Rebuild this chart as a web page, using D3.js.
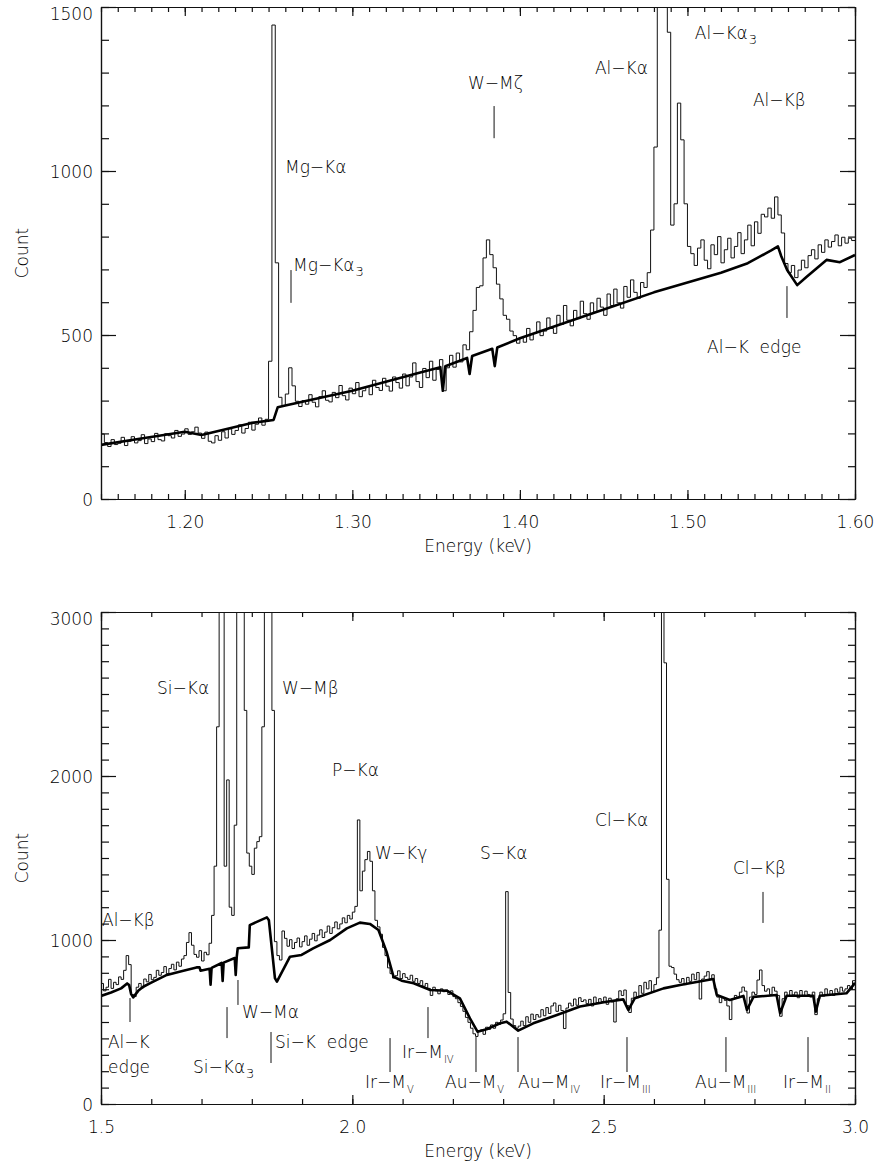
<!DOCTYPE html>
<html>
<head>
<meta charset="utf-8">
<style>
  body { margin: 0; background: #fff; }
  svg text { font-family: "DejaVu Sans", sans-serif; font-weight: 300; fill: #000; font-size: 17px; }
  .axis path, .axis line { stroke: #111; stroke-width: 1.2; }
</style>
</head>
<body>
<svg width="881" height="1164"></svg>
<script src="https://cdnjs.cloudflare.com/ajax/libs/d3/7.8.5/d3.min.js"></script>
<script>

// ---- top panel: 1.15 - 1.60 keV ----
var topStart = 1.150, topBin = 0.002;
var topCounts = [
  198,172,160,181,166,170,188,163,176,190, 171,178,196,169,183,175,200,181,177,199,
  193,186,209,191,198,214,197,205,219,201, 185,204,176,171,193,179,205,186,214,197,
  209,226,201,215,234,210,228,247,225,243, 420,1445,720,310,285,320,400,345,298,282,
  300,289,318,295,281,312,330,301,296,325, 309,346,315,302,338,321,355,312,330,343,
  318,362,340,331,368,344,329,372,355,338, 381,345,372,415,358,340,398,370,420,362,
  395,425,330,400,438,402,445,418,470,455, 510,575,645,650,735,790,745,705,655,610,
  560,548,512,498,475,492,478,520,485,505, 540,498,512,552,520,505,560,532,590,545,
  528,575,550,603,565,548,598,570,612,585, 560,625,590,640,598,582,648,615,668,630,
  612,660,645,690,820,1073,1900,2600,2200,1423, 835,900,1207,1095,900,770,748,712,765,790,
  728,702,775,745,800,720,760,795,735,770, 812,748,790,835,772,845,810,868,860,887,
  856,921,866,811,718,690,712,675,698,728, 705,742,760,732,775,752,790,768,785,805,
  772,798,780,795,788
];
var topModel = [
  [1.150,165],[1.175,185],[1.200,205],[1.210,195],[1.240,232],[1.253,241],[1.2555,280],
  [1.260,285],[1.300,330],[1.340,385],[1.3525,402],[1.354,330],[1.3555,405],[1.3685,430],
  [1.370,381],[1.3715,436],[1.3835,458],[1.385,405],[1.3865,462],[1.400,490],[1.440,560],
  [1.480,630],[1.500,660],[1.520,690],[1.536,719],[1.550,758],[1.554,770],[1.556,740],
  [1.5595,698],[1.5655,652],[1.571,677],[1.583,729],[1.591,722],[1.600,744]
];
var topXMajor = [1.20, 1.30, 1.40, 1.50, 1.60];
var topYMajor = [0, 500, 1000, 1500];
// [text, subscript, energy, count] for the text, [energy, count from, count to] for the marks
var topNotes = [
  ["Mg−Kα", "", 1.2598, 994], ["Mg−Kα", "3", 1.2646, 695], ["W−Mζ", "", 1.369, 1250],
  ["Al−Kα", "", 1.4448, 1296], ["Al−Kα", "3", 1.5044, 1402], ["Al−Kβ", "", 1.5391, 1198],
  ["Al−K  edge", "", 1.5117, 445]
];
var topMarks = [[1.2634, 598, 698], [1.3846, 1100, 1198], [1.5594, 552, 649]];

// ---- bottom panel: 1.5 - 3.0 keV ----
var botStart = 1.500, botBin = 0.005;
var botCounts = [
  735,690,712,760,705,742,728,775,760,815, 905,850,668,655,712,735,708,762,745,790,
  758,772,815,785,802,838,795,826,852,818, 865,840,884,905,985,1045,968,912,895,935,
  872,925,910,980,1150,1450,2300,3800,3500,1450, 1976,1200,1150,1700,3600,3900,3400,2400,1530,1450,
  1400,1560,1600,1630,2300,3500,4000,3800,2400,990, 905,878,1055,1010,962,1002,948,985,1012,958,
  990,1025,968,1005,1040,995,1030,1062,1015,1048, 1085,1040,1075,1110,1068,1098,1135,1105,1150,1128,
  1170,1205,1732,1300,1420,1490,1540,1480,1300,1120, 1080,1035,955,905,830,795,768,782,812,765,
  795,772,760,785,748,765,735,752,718,735, 705,662,712,690,672,702,685,695,668,690,
  655,642,618,595,565,528,498,462,428,412, 445,452,425,468,455,482,462,498,485,512,
  550,1295,680,518,478,462,475,505,478,532, 498,548,515,545,530,575,538,588,552,598,
  616,565,602,570,460,585,615,598,640,602, 648,625,635,612,638,598,652,618,642,625,
  652,608,645,622,500,642,690,662,695,600, 558,645,682,648,722,675,742,702,752,682,
  728,770,1060,3800,2690,1370,840,832,792,758, 742,765,728,772,748,792,758,802,640,762,
  780,807,762,788,702,652,618,648,632,598, 515,642,662,648,682,713,688,555,652,682,
  668,756,817,722,688,702,668,712,688,662, 535,642,682,658,692,665,682,648,692,662,
  688,668,652,682,545,642,682,658,702,668, 692,662,702,682,712,688,702,722,698,752
];
var botModel = [
  [1.500,659],[1.520,680],[1.540,705],[1.552,735],[1.556,725],[1.560,670],[1.564,650],
  [1.574,690],[1.584,715],[1.600,740],[1.631,787],[1.660,810],[1.690,833],[1.696,833],
  [1.698,813],[1.716,825],[1.718,728],[1.720,830],[1.740,860],[1.742,750],[1.744,862],
  [1.766,890],[1.768,787],[1.770,895],[1.772,950],[1.794,955],[1.796,1091],[1.830,1138],
  [1.834,1120],[1.846,768],[1.850,746],[1.876,898],[1.899,909],[1.922,949],[1.956,1000],
  [1.989,1071],[2.015,1106],[2.035,1098],[2.052,1061],[2.068,929],[2.082,776],[2.098,752],
  [2.122,736],[2.155,695],[2.188,691],[2.214,644],[2.234,522],[2.249,441],[2.267,456],
  [2.294,492],[2.307,502],[2.330,447],[2.360,492],[2.407,543],[2.453,594],[2.506,624],
  [2.539,638],[2.549,573],[2.562,645],[2.619,705],[2.652,726],[2.718,762],[2.725,665],
  [2.751,634],[2.778,659],[2.785,573],[2.798,653],[2.844,665],[2.851,553],[2.864,660],
  [2.917,660],[2.922,563],[2.930,660],[2.983,675],[2.997,726],[3.000,740]
];
var botXMajor = [1.5, 2.0, 2.5, 3.0];
var botYMajor = [0, 1000, 2000, 3000];
var botNotes = [
  ["Si−Kα", "", 1.6114, 2500], ["W−Mβ", "", 1.8601, 2500], ["P−Kα", "", 1.9596, 2000],
  ["W−Kγ", "", 2.0451, 1494], ["S−Kα", "", 2.254, 1494], ["Cl−Kα", "", 2.4828, 1695],
  ["Cl−Kβ", "", 2.7573, 1402], ["Al−Kβ", "", 1.502, 1085], ["Al−K", "", 1.5139, 341],
  ["edge", "", 1.5139, 189], ["W−Mα", "", 1.7805, 524], ["Si−Kα", "3", 1.683, 189],
  ["Si−K  edge", "", 1.8462, 341], ["Ir−M", "IV", 2.0988, 280], ["Ir−M", "V", 2.0252, 98],
  ["Au−M", "V", 2.1844, 98], ["Au−M", "IV", 2.3296, 98], ["Ir−M", "III", 2.4927, 98],
  ["Au−M", "III", 2.6817, 98], ["Ir−M", "II", 2.8568, 98]
];
var botMarks = [
  [2.817, 1104, 1293], [1.5577, 500, 646], [1.7725, 604, 756], [1.7507, 402, 591],
  [1.8382, 250, 439], [2.1505, 402, 591], [2.075, 195, 402], [2.246, 195, 408],
  [2.3296, 195, 408], [2.5464, 195, 408], [2.7433, 195, 408], [2.9065, 195, 408]
];

var svg = d3.select("svg");
var left = 101, right = 855;

function range(a, b, step) {
  var out = [];
  for (var v = a; v <= b + step / 2; v += step) out.push(+v.toFixed(4));
  return out;
}

function panel(id, top, bottom, xdom, ydom, xMajor, xMinorStep, yMajor, yMinorStep, fmt,
               start, bin, counts, model, notes, marks) {
  var x = d3.scaleLinear().domain(xdom).range([left, right]);
  var y = d3.scaleLinear().domain(ydom).range([bottom, top]);
  var g = svg.append("g");

  g.append("clipPath").attr("id", id)
    .append("rect").attr("x", left).attr("y", top)
    .attr("width", right - left).attr("height", bottom - top);

  var steps = counts.map(function(c, i) { return [start + i * bin, c]; });
  steps.push([start + counts.length * bin, counts[counts.length - 1]]);

  g.append("path")
      .datum(steps)
      .attr("clip-path", "url(#" + id + ")")
      .attr("fill", "none")
      .attr("stroke", "#111")
      .attr("stroke-width", 1)
      .attr("d", d3.line().curve(d3.curveStepAfter)
        .x(function(d) { return x(d[0]); })
        .y(function(d) { return y(d[1]); }));

  g.append("path")
      .datum(model)
      .attr("clip-path", "url(#" + id + ")")
      .attr("fill", "none")
      .attr("stroke", "#000")
      .attr("stroke-width", 2.6)
      .attr("stroke-linejoin", "round")
      .attr("d", d3.line()
        .x(function(d) { return x(d[0]); })
        .y(function(d) { return y(d[1]); }));

  var xMinor = range(xdom[0], xdom[1], xMinorStep);
  var yMinor = range(ydom[0], ydom[1], yMinorStep);

  // minor ticks first, then majors with labels
  g.append("g").attr("class", "axis").attr("transform", "translate(0," + bottom + ")")
      .call(d3.axisBottom(x).tickValues(xMinor).tickSize(-5).tickSizeOuter(0).tickFormat(""));
  g.append("g").attr("class", "axis").attr("transform", "translate(0," + bottom + ")")
      .call(d3.axisBottom(x).tickValues(xMajor).tickSize(-9).tickSizeOuter(0)
        .tickPadding(17).tickFormat(d3.format(fmt)));
  g.append("g").attr("class", "axis").attr("transform", "translate(0," + top + ")")
      .call(d3.axisTop(x).tickValues(xMinor).tickSize(-5).tickSizeOuter(0).tickFormat(""));
  g.append("g").attr("class", "axis").attr("transform", "translate(0," + top + ")")
      .call(d3.axisTop(x).tickValues(xMajor).tickSize(-9).tickSizeOuter(0).tickFormat(""));

  g.append("g").attr("class", "axis").attr("transform", "translate(" + left + ",0)")
      .call(d3.axisLeft(y).tickValues(yMinor).tickSize(-8).tickSizeOuter(0).tickFormat(""));
  var ly = g.append("g").attr("class", "axis").attr("transform", "translate(" + left + ",0)")
      .call(d3.axisLeft(y).tickValues(yMajor).tickSize(-15).tickSizeOuter(0)
        .tickPadding(8).tickFormat(d3.format("d")));
  g.append("g").attr("class", "axis").attr("transform", "translate(" + right + ",0)")
      .call(d3.axisRight(y).tickValues(yMinor).tickSize(-7).tickSizeOuter(0).tickFormat(""));
  g.append("g").attr("class", "axis").attr("transform", "translate(" + right + ",0)")
      .call(d3.axisRight(y).tickValues(yMajor).tickSize(-15).tickSizeOuter(0).tickFormat(""));

  // the top label sits a little below its tick, as in the original
  ly.selectAll(".tick text").attr("y", function(d) { return d === ydom[1] ? 7 : 1; });
  g.selectAll(".axis").attr("font-size", null).attr("font-family", null);
  g.selectAll(".axis text").attr("fill", null);

  g.append("text")
      .attr("x", (left + right) / 2).attr("y", bottom + 53)
      .attr("text-anchor", "middle")
      .text("Energy (keV)");
  g.append("text")
      .attr("transform", "translate(28," + (top + bottom) / 2 + ") rotate(-90)")
      .attr("text-anchor", "middle")
      .text("Count");

  g.selectAll(".mark").data(marks).enter().append("line")
      .attr("x1", function(d) { return x(d[0]); }).attr("x2", function(d) { return x(d[0]); })
      .attr("y1", function(d) { return y(d[1]); }).attr("y2", function(d) { return y(d[2]); })
      .attr("stroke", "#111").attr("stroke-width", 1);

  notes.forEach(function(n) {
    var t = g.append("text").attr("x", x(n[2])).attr("y", y(n[3]))
        .attr("xml:space", "preserve").text(n[0]);
    if (n[1]) {
      t.append("tspan").attr("dy", 5).attr("font-size", /^[0-9]$/.test(n[1]) ? 13 : 10)
        .attr("dx", 1).text(n[1]);
    }
  });
}

panel("clipTop", 7, 499, [1.15, 1.60], [0, 1500], topXMajor, 0.01, topYMajor, 100, ".2f",
      topStart, topBin, topCounts, topModel, topNotes, topMarks);
panel("clipBot", 612, 1104, [1.5, 3.0], [0, 3000], botXMajor, 0.1, botYMajor, 100, ".1f",
      botStart, botBin, botCounts, botModel, botNotes, botMarks);

</script>
</body>
</html>
